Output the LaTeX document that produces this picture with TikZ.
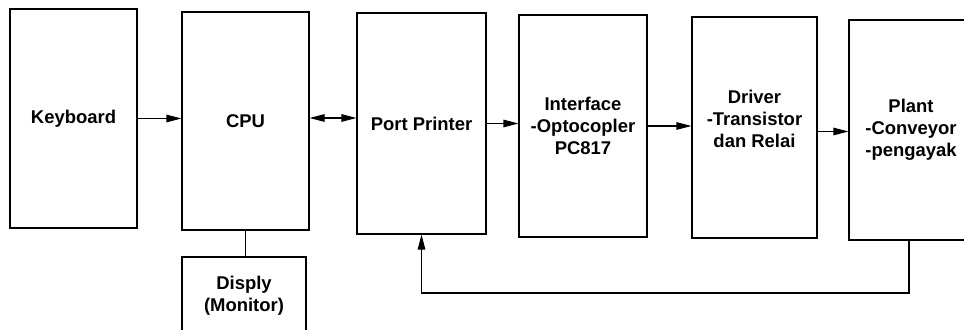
\documentclass[tikz,border=0pt]{standalone}
\usepackage{fontspec}
\setsansfont{Liberation Sans}
\usepackage{tikz}
\usetikzlibrary{arrows.meta, positioning, calc}

\begin{document}
\begin{tikzpicture}[
    x=0.2mm, y=-0.2mm,
    font=\sffamily\bfseries\fontsize{10.5}{12.5}\selectfont,
    >={Triangle[length=3mm, width=1.5mm]},
    box/.style={draw, line width=0.6pt, align=center, inner sep=0pt},
    arrow/.style={->, line width=0.6pt},
    link/.style={line width=0.6pt}
]
\useasboundingbox (0,0) rectangle (964,330);
\clip (0,0) rectangle (964,330);

% Nodes
\node[box, minimum width=2.54cm, minimum height=4.38cm] (kbd) at (73.5,118.5) {Keyboard};
\node[box, minimum width=2.54cm, minimum height=4.36cm] (cpu) at (245.5,121) {CPU};
\node[box, minimum width=2.48cm, minimum height=1.56cm] (disp) at (244,296) {Disply\\(Monitor)};
\node[box, minimum width=2.58cm, minimum height=4.42cm] (port) at (421.5,123.5) {Port Printer};
\node[box, minimum width=2.56cm, minimum height=4.44cm] (intf) at (583,126) {Interface\\-Optocopler\\PC817};
\node[box, minimum width=2.50cm, minimum height=4.42cm,
      label={[name=drvtxt, align=center, yshift=0.18cm]center:Driver\\-Transistor\\dan Relai}] (drv) at (754.5,127.5) {};
\node[box, minimum width=2.48cm, minimum height=4.40cm] (plant) at (911,130) {Plant\\-Conveyor\\-pengayak};
\coordinate (fb) at (421.5,293);

% Arrows
\draw[arrow] (kbd.east) -- (kbd.east -| cpu.west);
\draw[arrow, <->] ($(cpu.east)+(0,-3)$) -- ($(cpu.east -| port.west)+(0,-3)$);
\draw[arrow] (port.east) -- (port.east -| intf.west);
\draw[arrow] (intf.east) -- (intf.east -| drv.west);
\draw[arrow] ($(drv.east)+(0,4)$) -- ($(drv.east -| plant.west)+(0,4)$);
\draw[link] (cpu.south) -- (cpu.south |- disp.north);
\draw[arrow] ($(plant.south)+(-2,0)$) |- (fb) -- (port.south);

\end{tikzpicture}
\end{document}
